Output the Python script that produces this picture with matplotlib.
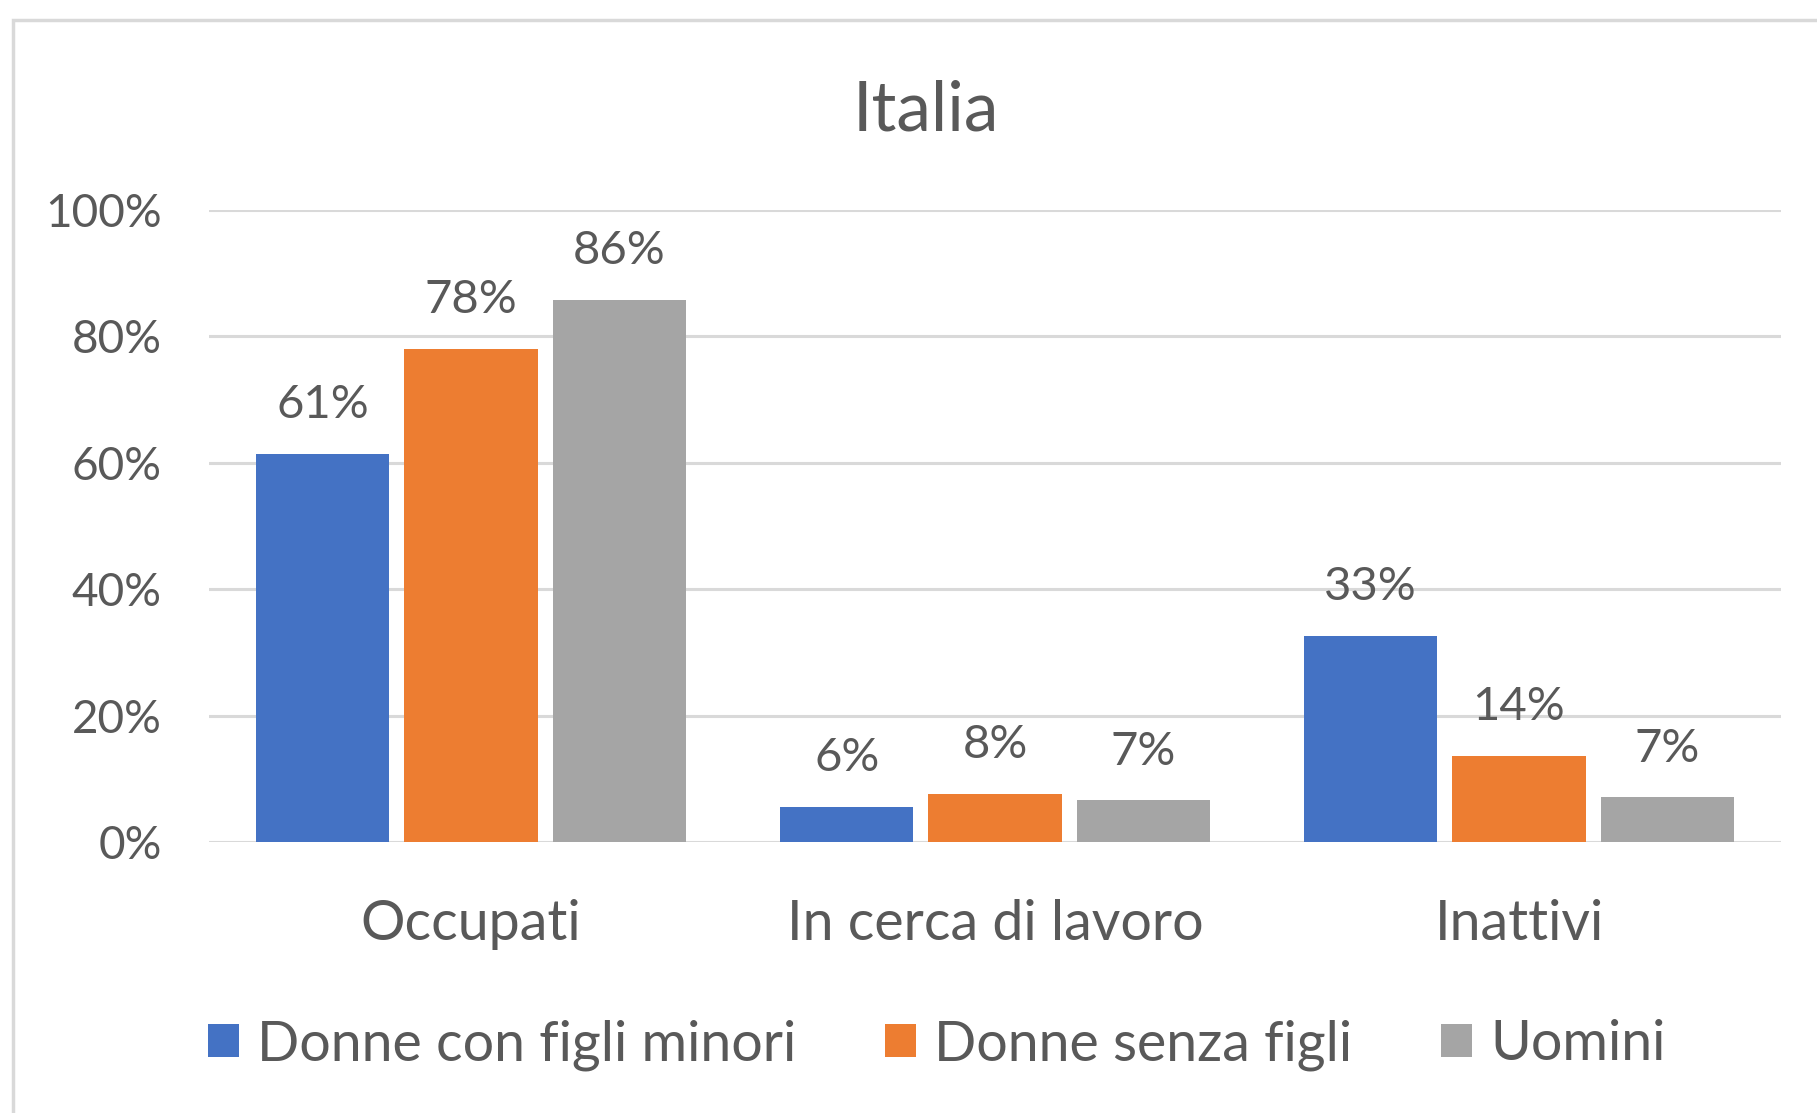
import numpy as np
import matplotlib.pyplot as plt
from matplotlib.patches import Rectangle

plt.rcParams["font.family"] = ["Lato", "DejaVu Sans"]

# Data ######################################################################
categories = ["Occupati", "In cerca di lavoro", "Inattivi"]
series_names = ["Donne con figli minori", "Donne senza figli", "Uomini"]
donne_con_figli = [0.614, 0.056, 0.326]
donne_senza_figli = [0.780, 0.076, 0.136]
uomini = [0.858, 0.066, 0.071]
yticks = [0, 0.2, 0.4, 0.6, 0.8, 1.0]

# Style #####################################################################
colors = ["#4472C4", "#ED7D31", "#A5A5A5"]
textcol = "#595959"
gridcol = "#D9D9D9"
W, H = 1817, 1113
barw = 0.254
step = 0.283

fig = plt.figure(figsize=(W/100, H/100), dpi=100)
# chart frame (only left and top visible in the crop)
fig.patches.append(Rectangle((13/W, -0.1), 1.2, 1 - 20/H + 0.1, transform=fig.transFigure,
                             fill=False, edgecolor=gridcol, lw=2.5))

ax = fig.add_axes([209/W, 1 - 842/H, (1781-209)/W, (842-210)/H])
x = np.arange(len(categories))
for i, vals in enumerate([donne_con_figli, donne_senza_figli, uomini]):
    bars = ax.bar(x + (i-1)*step, vals, width=barw, color=colors[i], label=series_names[i], zorder=3)
    for b, v in zip(bars, vals):
        ax.annotate(f"{round(v*100):d}%", (b.get_x() + b.get_width()/2, v),
                    xytext=(0, 35), textcoords="offset points", ha="center", va="center",
                    fontsize=34, color=textcol)

ax.set_xlim(-0.5, 2.5)
ax.set_ylim(0, 1)
ax.set_yticks(yticks)
ax.set_yticklabels([f"{int(t*100)}%" for t in yticks])
ax.set_xticks(x)
ax.set_xticklabels(categories)
ax.tick_params(axis="y", length=0, pad=34, labelsize=33, labelcolor=textcol)
ax.tick_params(axis="x", length=0, pad=41, labelsize=40, labelcolor=textcol)
ax.yaxis.grid(True, color=gridcol, lw=2.2, zorder=0)
for s in ax.spines.values():
    s.set_visible(False)

fig.text(926/W, 1 - 111/H, "Italia", ha="center", va="center", fontsize=50, color=textcol)

leg = fig.legend(loc="center", bbox_to_anchor=(937/W, 1 - 1045/H), ncol=3, frameon=False,
                 fontsize=40, labelcolor=textcol, handlelength=0.55, handleheight=0.55,
                 handletextpad=0.33, columnspacing=1.6)

fig.savefig("out.png", dpi=100, facecolor="white")
